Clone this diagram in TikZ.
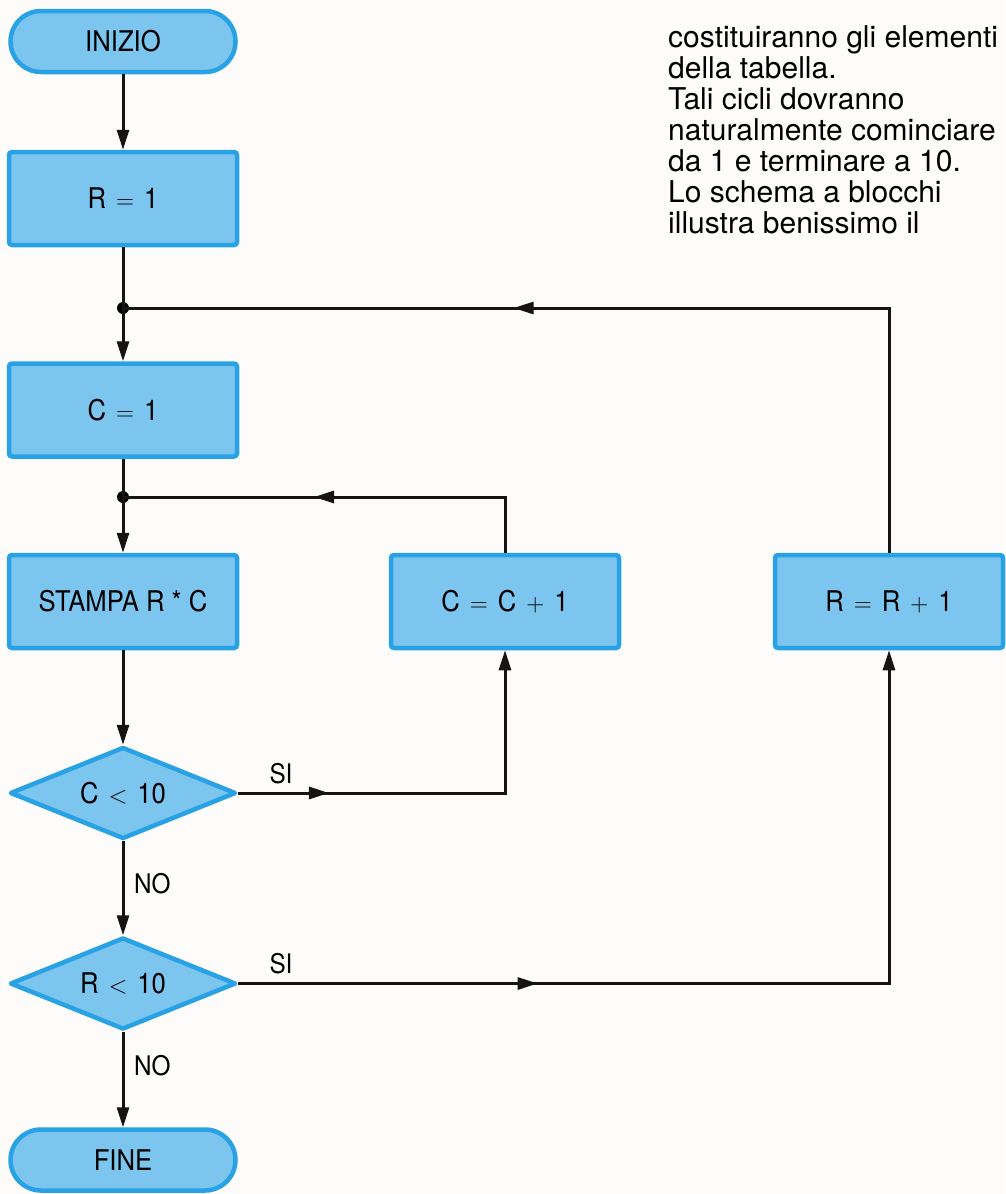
\documentclass[tikz,border=0pt]{standalone}
\usepackage{fontspec}
\setmainfont{TeX Gyre Heros}
\newfontfamily\condfont[FakeStretch=0.9]{TeX Gyre Heros}
\usetikzlibrary{shapes.geometric,shapes.misc,arrows.meta,decorations.markings}
\definecolor{boxfill}{RGB}{124,197,239}
\definecolor{boxline}{RGB}{40,162,228}
\definecolor{paper}{RGB}{253,252,250}
\newcommand\myop[1]{\hspace{10pt}$#1$\hspace{10pt}}
\begin{document}
\begin{tikzpicture}[x=1pt,y=-1pt,
  every node/.style={text=black},
  lab/.style={font=\condfont\fontsize{28.5}{30}\selectfont},
  procbox/.style={lab, rectangle, rounded corners=3pt, draw=boxline, fill=boxfill, line width=4.5pt, minimum width=228pt, minimum height=93pt, inner sep=0pt},
  termbox/.style={lab, rounded rectangle, draw=boxline, fill=boxfill, line width=4.5pt, minimum width=225pt, minimum height=61pt, inner sep=0pt},
  decbox/.style={lab, diamond, aspect=2.4, draw=boxline, fill=boxfill, line width=4.5pt, minimum width=226pt, minimum height=92pt, inner sep=0pt, line join=round},
  flow/.style={line width=3pt, draw=black!92},
  arr/.style={flow, -{Triangle[length=20pt,width=12pt]}},
  midarr/.style={flow, postaction=decorate, decoration={markings, mark=at position #1 with {\arrow{Triangle[length=20pt,width=12pt]}}}},
  lbl/.style={font=\condfont\fontsize{27}{29}\selectfont, inner sep=0pt},
  dotnode/.style={circle, fill=black, inner sep=0pt, minimum size=12pt}
]
\fill[paper] (0,0) rectangle (1005,1194);
\useasboundingbox (0,0) rectangle (1005,1194);

% nodes
\node[termbox] (ini) at (123,41.5) {INIZIO};
\node[procbox] (r1) at (123,198.5) {R\myop{=}1};
\node[procbox] (c1) at (123,410) {C\myop{=}1};
\node[procbox] (st) at (123,601.5) {STAMPA R * C};
\node[procbox] (cc) at (505,601.5) {C\myop{=}C\myop{+}1};
\node[procbox] (rr) at (889,601.5) {R\myop{=}R\myop{+}1};
\node[decbox] (cl) at (123,793) {C\myop{<}10};
\node[decbox] (rl) at (123,983.5) {R\myop{<}10};
\node[termbox] (fine) at (123,1160) {FINE};

\node[dotnode] (d1) at (123,308) {};
\node[dotnode] (d2) at (123,497) {};

% labels
\node[lbl] (si1) at (281,774) {SI};
\node[lbl] (si2) at (281,964) {SI};
\node[lbl, anchor=west] (no1) at (134,884) {NO};
\node[lbl, anchor=west] (no2) at (134,1066) {NO};

% text
\node[font=\fontsize{30}{31}\selectfont, align=left, anchor=north west, inner sep=0pt] (txt) at (668,25.5)
 {costituiranno gli elementi\\della tabella.\\Tali cicli dovranno\\naturalmente cominciare\\da 1 e terminare a 10.\\Lo schema a blocchi\\illustra benissimo il};

% connectors
\draw[arr] (ini.south) -- (r1.north);
\draw[flow] (r1.south) -- (d1.center);
\draw[arr] (d1.center) -- (c1.north);
\draw[flow] (c1.south) -- (d2.center);
\draw[arr] (d2.center) -- (st.north);
\draw[arr] (st.south) -- (cl.north);
\draw[arr] (cl.south) -- (rl.north);
\draw[arr] (rl.south) -- (fine.north);

\coordinate (cb) at (cc.south |- cl.east);
\draw[arr] (cl.east) -| (cc.south);
\draw[midarr=0.34] (cl.east) -- (cb);

\coordinate (rb) at (rr.south |- rl.east);
\draw[arr] (rl.east) -| (rr.south);
\draw[midarr=0.46] (rl.east) -- (rb);

\coordinate (ct) at (cc.north |- d2.center);
\draw[flow] (cc.north) |- (d2.center);
\draw[midarr=0.5] (ct) -- (d2.center);

\coordinate (rt) at (rr.north |- d1.center);
\draw[flow] (rr.north) |- (d1.center);
\draw[midarr=0.49] (rt) -- (d1.center);
\end{tikzpicture}
\end{document}
